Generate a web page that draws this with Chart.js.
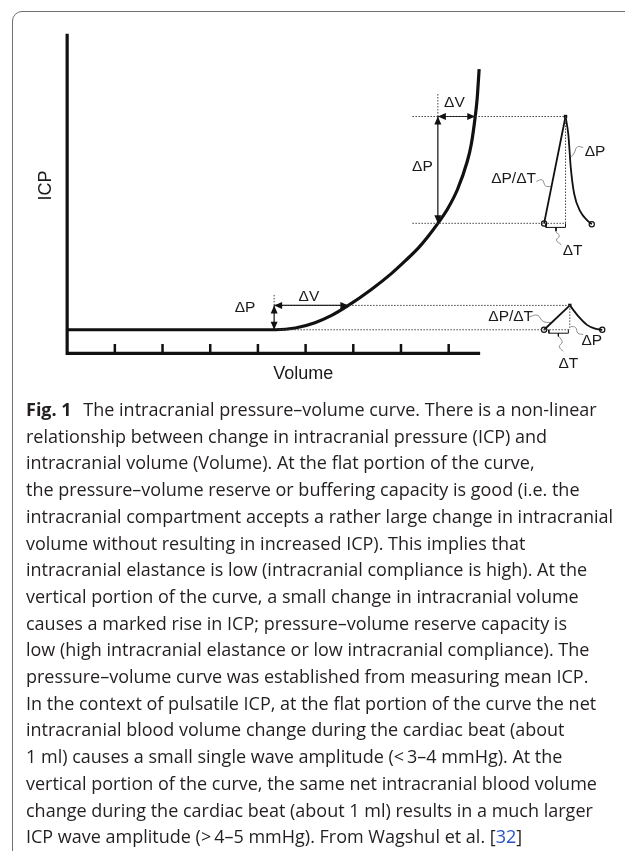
<!DOCTYPE html>
<html>
<head>
<meta charset="utf-8">
<script src="https://cdn.jsdelivr.net/npm/chart.js@4.4.1/dist/chart.umd.min.js"></script>
<style>
  body { margin: 0; background: #fff; width: 625px; height: 851px; overflow: hidden; position: relative; }
  .frame { position: absolute; left: 12px; top: 11px; width: 720px; height: 900px;
           border: 1.5px solid #707070; border-radius: 10px; box-sizing: border-box; }
  #icpChart { position: absolute; left: 0; top: 0; }
  .caption { position: absolute; left: 26px; top: 396px; font-family: "Open Sans", Lato, sans-serif;
             font-size: 18px; line-height: 26.7px; color: #231f20; white-space: nowrap; }
  .caption b { font-weight: 700; margin-right: 7px; }
  .caption .ref { color: #2b53c9; }
</style>
</head>
<body>
<div class="frame"></div>
<canvas id="icpChart" width="625" height="397"></canvas>
<div class="caption">
  <div><b>Fig. 1</b> The intracranial pressure–volume curve. There is a non-linear</div>
  <div>relationship between change in intracranial pressure (ICP) and</div>
  <div>intracranial volume (Volume). At the flat portion of the curve,</div>
  <div>the pressure–volume reserve or buffering capacity is good (i.e. the</div>
  <div>intracranial compartment accepts a rather large change in intracranial</div>
  <div>volume without resulting in increased ICP). This implies that</div>
  <div>intracranial elastance is low (intracranial compliance is high). At the</div>
  <div>vertical portion of the curve, a small change in intracranial volume</div>
  <div>causes a marked rise in ICP; pressure–volume reserve capacity is</div>
  <div>low (high intracranial elastance or low intracranial compliance). The</div>
  <div>pressure–volume curve was established from measuring mean ICP.</div>
  <div>In the context of pulsatile ICP, at the flat portion of the curve the net</div>
  <div>intracranial blood volume change during the cardiac beat (about</div>
  <div>1 ml) causes a small single wave amplitude (&lt;&#8201;3–4 mmHg). At the</div>
  <div>vertical portion of the curve, the same net intracranial blood volume</div>
  <div>change during the cardiac beat (about 1 ml) results in a much larger</div>
  <div>ICP wave amplitude (&gt;&#8201;4–5 mmHg). From Wagshul et al. [<span class="ref">32</span>]</div>
</div>
<script>
// pressure-volume curve (volume in tick units, ICP in % of axis height)
var curveVolume = [0, 4.371, 4.784, 5.196, 5.546, 5.897, 6.371, 6.804, 7.093, 7.361, 7.567,
                   7.773, 7.979, 8.186, 8.392, 8.474, 8.557, 8.598, 8.639];
var curveIcp    = [7.37, 7.37, 7.92, 9.60, 11.88, 14.99, 19.90, 25.02, 28.98, 32.91, 36.56,
                   40.68, 45.25, 51.34, 60.18, 65.42, 74.10, 79.89, 88.91];

var volumeTicks = [1, 2, 3, 4, 5, 6, 7, 8];
var axisTop = 100;
var axisEnd = 8.66;
var tickHeight = 2.9;

// pulse waveforms at the steep (upper) and flat (lower) part
var upperRiseT = [10.0, 10.45];
var upperRiseP = [40.6, 74.1];
var upperFallT = [10.45, 10.51, 10.56, 10.63, 10.76, 10.90, 11.0];
var upperFallP = [74.1, 68.3, 58.1, 50.0, 44.4, 41.7, 40.4];
var lowerRiseT = [10.0, 10.54];
var lowerRiseP = [7.37, 14.99];
var lowerFallT = [10.54, 10.73, 10.90, 11.07, 11.22];
var lowerFallP = [14.99, 11.4, 8.9, 7.7, 7.37];

// double headed arrows [x1, y1, x2, y2]
var arrows = [
  [7.773, 40.68, 7.773, 74.1],
  [7.773, 74.1, 8.557, 74.1],
  [4.34, 7.37, 4.34, 14.99],
  [4.34, 14.99, 5.897, 14.99]
];

// dotted guide lines [x1, y1, x2, y2]
var guides = [
  [7.24, 74.1, 10.45, 74.1],
  [7.24, 40.68, 10.45, 40.68],
  [7.773, 74.1, 7.773, 81.5],
  [10.45, 74.1, 10.45, 40.68],
  [4.34, 14.99, 10.54, 14.99],
  [4.45, 7.37, 10.54, 7.37],
  [4.34, 14.99, 4.34, 18.4],
  [10.54, 14.99, 10.54, 7.37]
];

// ΔT brackets under the rising edge
var brackets = [
  [[10.04, 40.68], [10.04, 39.4], [10.45, 39.4], [10.45, 40.68]],
  [[10.10, 7.37], [10.10, 6.3], [10.51, 6.3], [10.51, 7.37]]
];
var bracketNotches = [
  [10.25, 39.4, 10.25, 38.2],
  [10.30, 6.3, 10.30, 5.3]
];

// wavy leader lines from the labels
var leaders = [
  [[9.84, 53.8], [9.96, 54.3], [10.03, 52.4], [10.14, 52.2]],
  [[10.82, 64.4], [10.70, 64.6], [10.62, 62.4], [10.54, 61.1]],
  [[10.25, 37.9], [10.32, 36.8], [10.26, 35.4], [10.36, 34.0]],
  [[9.69, 11.4], [9.86, 11.9], [9.98, 10.0], [10.14, 9.6]],
  [[10.56, 8.4], [10.66, 8.1], [10.71, 6.3], [10.82, 5.9]],
  [[10.31, 5.3], [10.38, 3.6], [10.32, 2.1], [10.40, 0.6]]
];

var labelText = ['ΔV', 'ΔP', 'ΔP', 'ΔP/ΔT', 'ΔT', 'ΔV', 'ΔP', 'ΔP/ΔT', 'ΔP', 'ΔT'];
var labelX    = [8.12, 7.45, 11.07, 9.36, 10.60, 5.07, 3.73, 9.30, 11.00, 10.51];
var labelY    = [78.5, 58.3, 63.2, 54.7, 32.1, 17.7, 14.2, 11.6, 3.8, -3.2];

function xy(xs, ys) {
  return xs.map(function (x, i) { return {x: x, y: ys[i]}; });
}

function segmentData(list) {
  var pts = [];
  list.forEach(function (s) {
    pts.push({x: s[0], y: s[1]}, {x: s[2], y: s[3]}, {x: s[2], y: null});
  });
  return pts;
}

function pathData(list) {
  var pts = [];
  list.forEach(function (p) {
    p.forEach(function (q) { pts.push({x: q[0], y: q[1]}); });
    pts.push({x: p[p.length - 1][0], y: null});
  });
  return pts;
}

function lineSet(data, color, width, extra) {
  var ds = {data: data, borderColor: color, borderWidth: width, pointRadius: 0,
            tension: 0, fill: false, clip: false, spanGaps: false};
  return Object.assign(ds, extra || {});
}

var ink = '#111';

var tickSegments = volumeTicks.map(function (t) { return [t, 0, t, tickHeight]; });

var datasets = [
  lineSet([{x: 0, y: axisTop}, {x: 0, y: 0}, {x: axisEnd, y: 0}], ink, 3.2, {borderJoinStyle: 'miter'}),
  lineSet(segmentData(tickSegments), ink, 2.5),
  lineSet(segmentData(guides), '#444', 1, {borderDash: [1.5, 1.5]}),
  lineSet(xy(curveVolume, curveIcp), ink, 3.2, {cubicInterpolationMode: 'monotone'}),
  lineSet(segmentData(arrows), ink, 1.2),
  lineSet(xy(upperRiseT, upperRiseP), ink, 1.8),
  lineSet(xy(upperFallT, upperFallP), ink, 1.8, {cubicInterpolationMode: 'monotone'}),
  lineSet(xy(lowerRiseT, lowerRiseP), ink, 1.8),
  lineSet(xy(lowerFallT, lowerFallP), ink, 1.8, {cubicInterpolationMode: 'monotone'}),
  lineSet(pathData(brackets), ink, 1),
  lineSet(segmentData(bracketNotches), ink, 1),
  lineSet(pathData(leaders), '#8a8a8a', 1, {tension: 0.45}),
  // peaks
  lineSet([{x: upperRiseT[1], y: upperRiseP[1]}, {x: lowerRiseT[1], y: lowerRiseP[1]}], ink, 0,
    {showLine: false, pointRadius: 2.4, pointStyle: 'rect', pointBackgroundColor: ink, pointBorderColor: ink}),
  // open circles at the wave ends
  lineSet([
    {x: upperRiseT[0], y: upperRiseP[0]}, {x: upperFallT[upperFallT.length - 1], y: upperFallP[upperFallP.length - 1]},
    {x: lowerRiseT[0], y: lowerRiseP[0]}, {x: lowerFallT[lowerFallT.length - 1], y: lowerFallP[lowerFallP.length - 1]}
  ], ink, 0, {showLine: false, pointRadius: 2.6, pointBackgroundColor: '#fff', pointBorderColor: ink, pointBorderWidth: 1.2})
];

// arrow heads on both ends of each arrow
var arrowHeads = {
  id: 'arrowHeads',
  afterDatasetsDraw: function (chart) {
    var ctx = chart.ctx, xs = chart.scales.x, ys = chart.scales.y;
    ctx.save();
    ctx.fillStyle = ink;
    arrows.forEach(function (a) {
      var p1 = [xs.getPixelForValue(a[0]), ys.getPixelForValue(a[1])];
      var p2 = [xs.getPixelForValue(a[2]), ys.getPixelForValue(a[3])];
      [[p1, p2], [p2, p1]].forEach(function (pair) {
        var from = pair[0], tip = pair[1];
        var dx = tip[0] - from[0], dy = tip[1] - from[1];
        var len = Math.sqrt(dx * dx + dy * dy);
        var ux = dx / len, uy = dy / len;
        var bx = tip[0] - ux * 8, by = tip[1] - uy * 8;
        ctx.beginPath();
        ctx.moveTo(tip[0], tip[1]);
        ctx.lineTo(bx - uy * 3.5, by + ux * 3.5);
        ctx.lineTo(bx + uy * 3.5, by - ux * 3.5);
        ctx.closePath();
        ctx.fill();
      });
    });
    ctx.restore();
  }
};

// Δ labels and the axis names
var textLabels = {
  id: 'textLabels',
  afterDatasetsDraw: function (chart) {
    var ctx = chart.ctx, xs = chart.scales.x, ys = chart.scales.y;
    ctx.save();
    ctx.fillStyle = '#1a1a1a';
    ctx.textAlign = 'center';
    ctx.textBaseline = 'middle';
    ctx.font = '15.5px "Liberation Sans", Arial, sans-serif';
    labelText.forEach(function (t, i) {
      ctx.fillText(t, xs.getPixelForValue(labelX[i]), ys.getPixelForValue(labelY[i]));
    });
    ctx.font = '18px "Liberation Sans", Arial, sans-serif';
    ctx.fillText('Volume', xs.getPixelForValue(4.95), ys.getPixelForValue(-6.6));
    ctx.translate(xs.getPixelForValue(-0.45), ys.getPixelForValue(52.5));
    ctx.rotate(-Math.PI / 2);
    ctx.fillText('ICP', 0, 0);
    ctx.restore();
  }
};

new Chart(document.getElementById('icpChart').getContext('2d'), {
  type: 'line',
  data: {datasets: datasets},
  options: {
    responsive: false,
    animation: false,
    devicePixelRatio: 1,
    layout: {padding: 0},
    plugins: {legend: {display: false}, tooltip: {enabled: false}},
    events: [],
    scales: {
      x: {type: 'linear', display: false, min: -1.299, max: 11.588},
      y: {type: 'linear', display: false, min: -12.04, max: 108.93}
    }
  },
  plugins: [arrowHeads, textLabels]
});
</script>
</body>
</html>
